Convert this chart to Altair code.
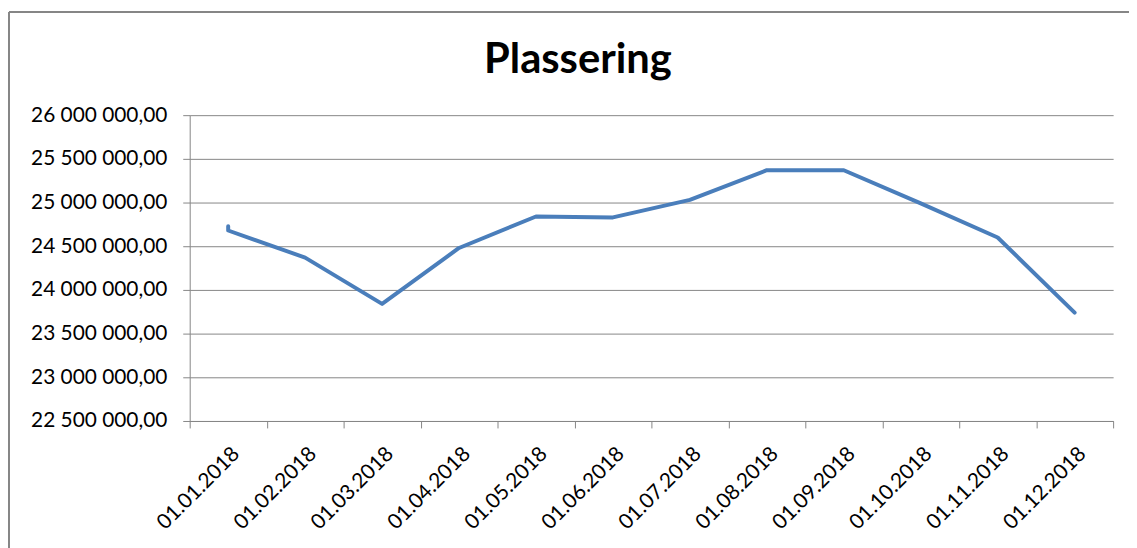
import altair as alt
import pandas as pd

categories = ["01.01.2018", "01.02.2018", "01.03.2018", "01.04.2018", "01.05.2018",
              "01.06.2018", "01.07.2018", "01.08.2018", "01.09.2018", "01.10.2018",
              "01.11.2018", "01.12.2018"]

# two readings fall in January (date axis groups them on the same month)
dates = ["01.01.2018", "01.01.2018", "01.02.2018", "01.03.2018", "01.04.2018",
         "01.05.2018", "01.06.2018", "01.07.2018", "01.08.2018", "01.09.2018",
         "01.10.2018", "01.11.2018", "01.12.2018"]
values = [24730000, 24680000, 24370000, 23840000, 24480000, 24840000, 24830000,
          25030000, 25370000, 25370000, 24990000, 24600000, 23740000]

y_ticks = [22500000, 23000000, 23500000, 24000000, 24500000, 25000000, 25500000, 26000000]

title_text = ["Plassering"]

df = pd.DataFrame({"dato": dates, "verdi": values, "i": list(range(len(dates)))})

GRAY = "#868686"
FONT = "Lato"

line = alt.Chart(df).mark_line(
    color="#4A7EBB", strokeWidth=4, strokeJoin="round", strokeCap="round"
).encode(
    x=alt.X("dato:N", sort=categories, bandPosition=0.5,
            scale=alt.Scale(type="band", paddingInner=0, paddingOuter=0),
            axis=alt.Axis(title=None, labelAngle=-45, tickBand="extent", tickSize=7,
                          tickColor=GRAY, domainColor=GRAY, grid=False,
                          labelFont=FONT, labelFontSize=21, labelColor="#000000",
                          labelPadding=15, labelOverlap=False)),
    y=alt.Y("verdi:Q",
            scale=alt.Scale(domain=[22500000, 26000000], nice=False, zero=False),
            axis=alt.Axis(title=None, values=y_ticks, format=",.2f", tickSize=7,
                          tickColor=GRAY, domainColor=GRAY, gridColor=GRAY,
                          gridOpacity=1, labelFont=FONT, labelFontSize=21,
                          labelColor="#000000", labelPadding=16)),
    order=alt.Order("i:Q"),
)

frame_data = alt.InlineData(values=[{}])
top_border = alt.Chart(frame_data).mark_rule(color=GRAY, strokeWidth=2).encode(
    x=alt.value(-182), x2=alt.value(960), y=alt.value(-104)
)
left_border = alt.Chart(frame_data).mark_rule(color=GRAY, strokeWidth=2).encode(
    x=alt.value(-182), y=alt.value(-104), y2=alt.value(450)
)

title = alt.Chart(pd.DataFrame({"t": title_text})).mark_text(
    font=FONT, fontSize=42, fontWeight="bold", color="#000000",
    align="center", baseline="alphabetic"
).encode(text="t:N", x=alt.value(391), y=alt.value(-42))

chart = alt.layer(line, top_border, left_border, title).properties(
    width=930, height=308,
    autosize=alt.AutoSizeParams(type="none"),
    padding={"left": 183, "top": 106, "right": 16, "bottom": 126},
).configure(
    locale={"number": {"decimal": ",", "thousands": " ", "grouping": [3],
                       "currency": ["", ""]}}
).configure_view(stroke=None)

chart.save("out.html", embed_options={"renderer": "svg", "actions": False})
